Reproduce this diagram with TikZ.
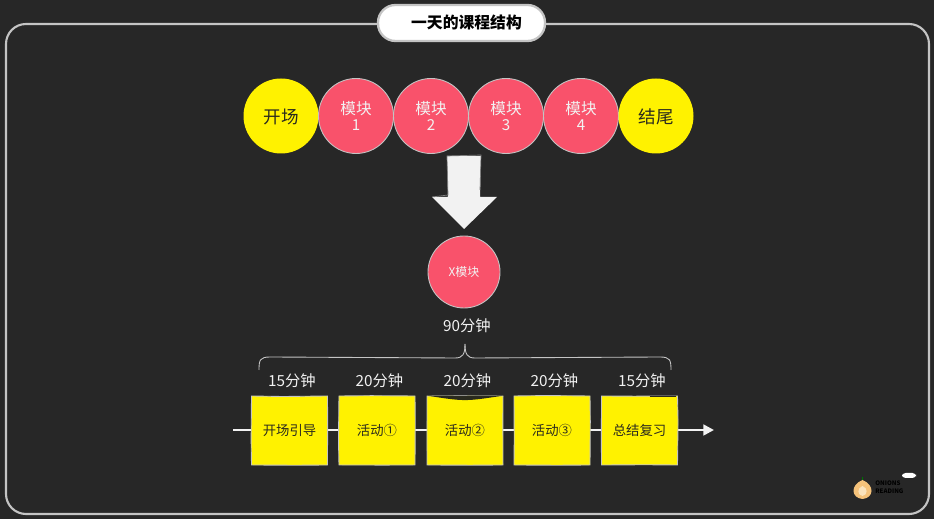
\documentclass[tikz,border=0pt]{standalone}
\usepackage{fontspec}
\setmainfont{Noto Sans CJK SC}
\usepackage{xcolor}
\usetikzlibrary{positioning,calc,arrows.meta,decorations.pathmorphing}

\definecolor{boardbg}{HTML}{272727}
\definecolor{framegray}{HTML}{C4C4C4}
\definecolor{sunyellow}{HTML}{FFF200}
\definecolor{rosered}{HTML}{F9526B}
\definecolor{softwhite}{HTML}{F2F2F2}
\definecolor{inkdark}{HTML}{2A2A1E}
\definecolor{onionskin}{HTML}{F5C27A}
\definecolor{onionheart}{HTML}{FBE3BC}

\tikzset{
	ball/.style={circle,minimum size=37.5*2*0.02cm,inner sep=0pt,align=center,line width=0.5pt},
	yellowball/.style={ball,fill=sunyellow,text=inkdark,font=\fontsize{10}{12}\selectfont,text height=1em,text depth=0.12em},
	redball/.style={ball,fill=rosered,draw=framegray,text=softwhite,font=\fontsize{8.9}{10.5}\selectfont},
	timelabel/.style={text=softwhite,font=\fontsize{8.7}{10}\selectfont,inner sep=0pt},
	stepbox/.style={fill=sunyellow,draw=framegray,line width=0.5pt,minimum width=76*0.02cm,minimum height=69*0.02cm,inner sep=0pt,
		text=inkdark,font=\fontsize{7.6}{9}\selectfont,
		decorate,decoration={random steps,segment length=25pt,amplitude=0.35pt}},
	boxshade/.style={draw=inkdark,line width=0.7pt},
}

\begin{document}
\begin{tikzpicture}[x=0.02cm,y=-0.02cm]
	\def\W{934}
	\def\H{519}

	\fill[boardbg] (0,0) rectangle (\W,\H);
	\useasboundingbox (0,0) rectangle (\W,\H);

	% outer frame and title
	\draw[framegray,line width=1.2pt,rounded corners=0.4cm] (6,24) rectangle (929,514);
	\node[fill=white,draw=framegray,line width=1.3pt,rounded corners=0.35cm,minimum width=167*0.02cm,minimum height=36*0.02cm,inner sep=0pt] (title) at (461.5,23) {};
	\node[font=\fontsize{9}{11}\selectfont\bfseries,text=black,inner sep=0pt] (titletext) at (466.5,22) {一天的课程结构};

	% top row
	\node[yellowball] (open) at (281,116) {开场};
	\foreach \i/\x in {1/356,2/431,3/506,4/581}{
		\node[redball] (mod\i) at (\x,116) {模块\\[-1pt]{\fontsize{8.6}{10}\selectfont\i}};
	}
	\node[yellowball] (close) at (656,116) {结尾};

	% big arrow
	\fill[softwhite] (447,156) -- (481,156) -- (480,197) -- (497,197) -- (464,229) -- (432,197) -- (448,197) -- cycle;
	\draw[gray,line width=0.4pt] (432,197) -- (448,195) -- (447,156) -- (481,155) -- (480,190);

	\node[ball,minimum size=36*2*0.02cm,fill=rosered,draw=framegray,text=softwhite,font=\fontsize{6.8}{8}\selectfont] (xmod) at (464,272) {X模块};
	\node[timelabel] (total) at (467,326) {90分钟};

	% brace
	\coordinate (braceL) at (259,370);
	\coordinate (braceR) at (671,370);
	\coordinate (braceT) at (465,344);
	\draw[framegray,line width=0.5pt] (braceL) .. controls (259,360) and (260,357) .. (270,357)
		-- (455,358) .. controls (463,358) and (465,354) .. (braceT);
	\draw[framegray,line width=0.5pt] (braceR) .. controls (671,360) and (670,357) .. (660,357)
		-- (475,358) .. controls (467,358) and (465,354) .. (braceT);

	% time axis
	\coordinate (axisL) at (233,430);
	\coordinate (axisR) at (714,430);
	\draw[softwhite,line width=1.6pt,-{Triangle[length=6pt,width=6pt]}] (axisL) -- (axisR);

	\foreach \name/\x/\mins/\txt in {a/289.5/15/开场引导,b/377/20/活动①,c/465/20/活动②,d/552/20/活动③,e/639.5/15/总结复习}{
		\node[stepbox] (box\name) at (\x,430.5) {\txt};
		\node[timelabel,above=7*0.02cm of box\name.north,xshift=2.5*0.02cm] (time\name) {\mins 分钟};
	}

	% dark pencil marks on the boxes
	\fill[inkdark] (boxc.north west) .. controls ($(boxc.north)+(0,6)$) .. (boxc.north east) -- cycle;
	\draw[boxshade] ($(boxe.north)+(10,1)$) -- ($(boxe.north east)+(-2,1)$);

	% logo
	\draw[green!45!black,line width=0.6pt] (862.5,477) -- (862.5,482);
	\fill[onionskin] (862.5,480) .. controls (875,485) and (874,498) .. (862.5,499)
		.. controls (851,498) and (850,485) .. (862.5,480);
	\fill[onionheart] (862.5,486) .. controls (868,488) and (868,495) .. (862.5,496)
		.. controls (857,495) and (857,488) .. (862.5,486);
	\node[fill=white,rounded corners=2pt,minimum width=14*0.02cm,minimum height=5*0.02cm,inner sep=0pt] (badge) at (909,475.5) {};
	\node[text=black,font=\fontsize{3.5}{4.5}\selectfont\bfseries,align=left,inner sep=0pt,anchor=west] (logotext) at (875,487) {ONIONS\\READING};
\end{tikzpicture}
\end{document}
